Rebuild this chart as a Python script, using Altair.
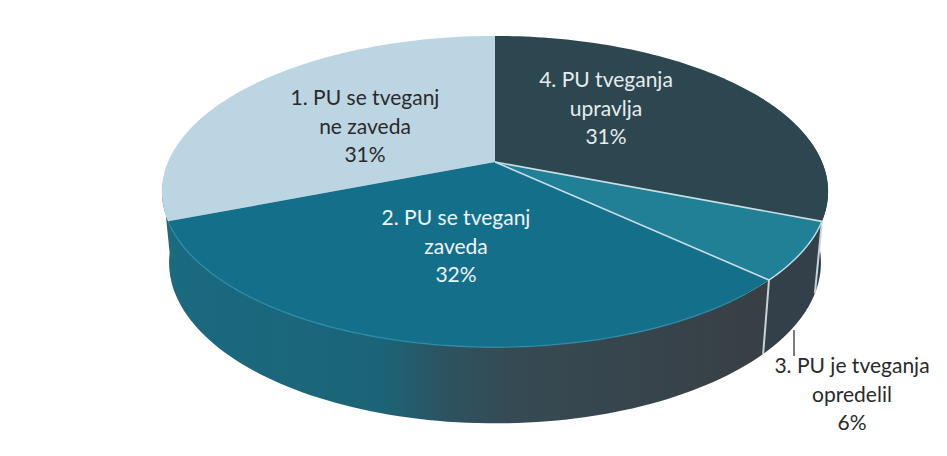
import numpy as np
import pandas as pd
import altair as alt

categories = ["1. PU se tveganj\nne zaveda", "2. PU se tveganj\nzaveda", "3. PU je tveganja\nopredelil", "4. PU tveganja\nupravlja"]
shares = [31, 32, 6, 31]
percent_labels = ["31%", "32%", "6%", "31%"]

# clockwise order from 12 o'clock, as in the pie: 4, 3, 2, 1
order = [3, 2, 1, 0]
total = sum(shares)
edges = {}
cur = 0.0
for i in order:
    edges[i] = (cur, cur + 360.0 * shares[i] / total)
    cur = edges[i][1]

CX, CY, K = 495.0, 162.0, 0.19
DOM_X = [8, 939]
DOM_Y = [448, 8]


def top(theta, r=1.0):
    t = np.radians(theta)
    u, v = r * np.sin(t), r * np.cos(t)
    den = 1 + K * v
    return CX + 327 * u / den, CY - 150 * v / den


def low(theta):
    t = np.radians(theta)
    u, v = np.sin(t), np.cos(t)
    den = 1 + K * v
    return CX + 320 * u / den, CY + 70 - 155 * v / den


def frame(xs, ys):
    return pd.DataFrame({"x": xs, "y": ys, "i": np.arange(len(xs))})


def enc(chart):
    return chart.encode(
        x=alt.X("x:Q", scale=alt.Scale(domain=DOM_X, nice=False, zero=False), axis=None),
        y=alt.Y("y:Q", scale=alt.Scale(domain=DOM_Y, nice=False, zero=False), axis=None),
    )


def shape(xs, ys, fill, stroke=None, sw=0.0):
    kw = {"fill": fill, "strokeWidth": sw, "stroke": stroke if stroke else "transparent"}
    return enc(alt.Chart(frame(xs, ys)).mark_line(interpolate="linear", **kw)).encode(order="i:Q")


def stroke(xs, ys, color, sw, opacity=1.0):
    return enc(alt.Chart(frame(xs, ys)).mark_line(color=color, strokeWidth=sw, opacity=opacity)).encode(order="i:Q")


def wedge(a, b, fill):
    th = np.linspace(a, b, 90)
    x, y = top(th)
    return shape(np.r_[CX, x, CX], np.r_[CY, y, CY], fill)


def side(a, b, fill):
    th = np.linspace(a, b, 90)
    x1, y1 = top(th)
    x2, y2 = low(th[::-1])
    return shape(np.r_[x1, x2, x1[0]], np.r_[y1, y2, y1[0]], fill)


def grad(stops):
    return alt.LinearGradient(
        gradient="linear", x1=0, x2=1, y1=0, y2=0,
        stops=[alt.GradientStop(offset=o, color=c) for o, c in stops],
    )


e1, e2, e3, e4 = edges[0], edges[1], edges[2], edges[3]

layers = [
    side(e4[0] + 60, e4[1], "#2c4049"),
    side(e3[0], e3[1], "#33404a"),
    side(e2[0], e1[0] + 14, grad([(0, "#1a6a80"), (0.36, "#1b6478"), (0.46, "#2c5361"), (0.58, "#364a53"), (1, "#383f44")])),
    wedge(e1[0], e1[1], "#bcd5e3"),
    wedge(e2[0], e2[1], "#14708a"),
    wedge(e3[0], e3[1], "#1f8096"),
    wedge(e4[0], e4[1], "#2c4750"),
]

# rim highlight of the front slice
th = np.linspace(e2[0] + 6, e2[1] - 2, 90)
layers.append(stroke(*top(th), "#2c8ba5", 1.5, 0.8))

# pale separators around the small slice
for a in (e3[0], e3[1]):
    xa, ya = top(a)
    layers.append(stroke(np.array([CX, xa]), np.array([CY, ya]), "#c9dde4", 1.6))
    xb, yb = low(a)
    layers.append(stroke(np.array([xa, xb]), np.array([ya, yb]), "#c9d3d6", 2))
th = np.linspace(e3[0], e3[1], 30)
layers.append(stroke(*top(th), "#c9dde4", 1.4))

# leader line for the outside label
layers.append(stroke(np.array([794.0, 794.0]), np.array([330.0, 356.0]), "#222222", 1.2))

# labels: y is the first line of each block
label_at = {0: (365, 99), 1: (456, 219), 2: (852, 367), 3: (606, 81)}
label_col = {0: "#2a2a2a", 1: "#eef3f5", 2: "#2a2a2a", 3: "#e6ecee"}
for i, cat in enumerate(categories):
    lx, ly = label_at[i]
    d = pd.DataFrame({"x": [lx], "y": [ly], "t": [cat + "\n" + percent_labels[i]]})
    layers.append(
        enc(alt.Chart(d).mark_text(
            font="Lato", fontSize=21, lineBreak="\n", lineHeight=28.5,
            align="center", baseline="middle", color=label_col[i],
        )).encode(text="t:N")
    )

chart = alt.layer(*layers).properties(
    width=931, height=440, padding=0,
    autosize=alt.AutoSizeParams(type="none", contains="padding"),
    background="#ffffff",
).configure_view(stroke=None)

chart.save("out.html", embed_options={"renderer": "svg", "actions": False})
